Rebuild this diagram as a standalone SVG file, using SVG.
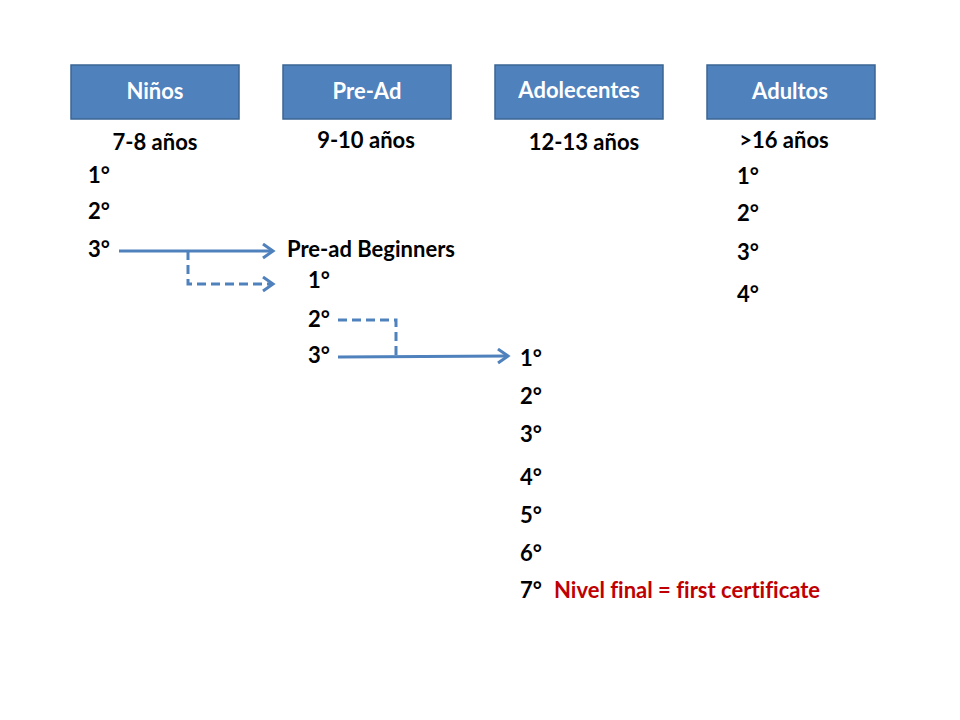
<svg xmlns="http://www.w3.org/2000/svg" width="960" height="720" viewBox="0 0 960 720">
<style>
.box{fill:#4F81BD;stroke:#3A6593;stroke-width:1.5}
.bl{font-family:Lato,"Liberation Sans",sans-serif;font-weight:bold;font-size:22px;fill:#fff;text-anchor:middle;font-variant-ligatures:none}
.t{font-family:Lato,"Liberation Sans",sans-serif;font-weight:bold;font-size:22px;fill:#000;font-variant-ligatures:none}
.c{text-anchor:middle}
.red{fill:#C00000}
.ln{fill:none;stroke:#4F81BD;stroke-width:3}
.d{stroke-dasharray:9,5}
</style>
<defs>
<marker id="ah" markerWidth="16" markerHeight="18" refX="12" refY="8" orient="auto" markerUnits="userSpaceOnUse">
<path d="M2,1 L12,8 L2,15" fill="none" stroke="#4F81BD" stroke-width="3"/>
</marker>
</defs>
<rect width="960" height="720" fill="#fff"/>
<g id="ninos"><rect class="box" x="71" y="65" width="168" height="54"/><text class="bl" x="155" y="99">Niños</text></g>
<g id="pread"><rect class="box" x="283" y="65" width="168" height="54"/><text class="bl" x="367" y="99">Pre-Ad</text></g>
<g id="adolecentes"><rect class="box" x="495" y="65" width="168" height="54"/><text class="bl" x="579" y="98">Adolecentes</text></g>
<g id="adultos"><rect class="box" x="707" y="65" width="168" height="54"/><text class="bl" x="790" y="99">Adultos</text></g>
<g id="ages">
<text class="t c" x="155" y="150">7-8 años</text>
<text class="t c" x="366" y="148">9-10 años</text>
<text class="t c" x="584" y="150">12-13 años</text>
<text class="t c" x="784" y="148">&gt;16 años</text>
</g>
<g id="ninos-levels">
<text class="t" x="88" y="183">1°</text>
<text class="t" x="88" y="219">2°</text>
<text class="t" x="88" y="257">3°</text>
</g>
<g id="pread-levels">
<text class="t" x="287" y="257">Pre-ad Beginners</text>
<text class="t" x="308" y="288">1°</text>
<text class="t" x="308" y="327">2°</text>
<text class="t" x="308" y="363">3°</text>
</g>
<g id="adol-levels">
<text class="t" x="520" y="366">1°</text>
<text class="t" x="520" y="404">2°</text>
<text class="t" x="520" y="442">3°</text>
<text class="t" x="520" y="485">4°</text>
<text class="t" x="520" y="523">5°</text>
<text class="t" x="520" y="561">6°</text>
<text class="t" x="520" y="598">7°</text>
<text class="t red" x="554" y="598">Nivel final = first certificate</text>
</g>
<g id="adultos-levels">
<text class="t" x="737" y="184">1°</text>
<text class="t" x="737" y="221">2°</text>
<text class="t" x="737" y="260">3°</text>
<text class="t" x="737" y="302">4°</text>
</g>
<g id="connectors">
<line class="ln" x1="119" y1="251" x2="273" y2="251" marker-end="url(#ah)"/>
<polyline class="ln d" points="188,251 188,284 273,284" marker-end="url(#ah)"/>
<polyline class="ln d" points="338,320 396,320 396,357"/>
<line class="ln" x1="338" y1="357" x2="508" y2="356" marker-end="url(#ah)"/>
</g>
</svg>
